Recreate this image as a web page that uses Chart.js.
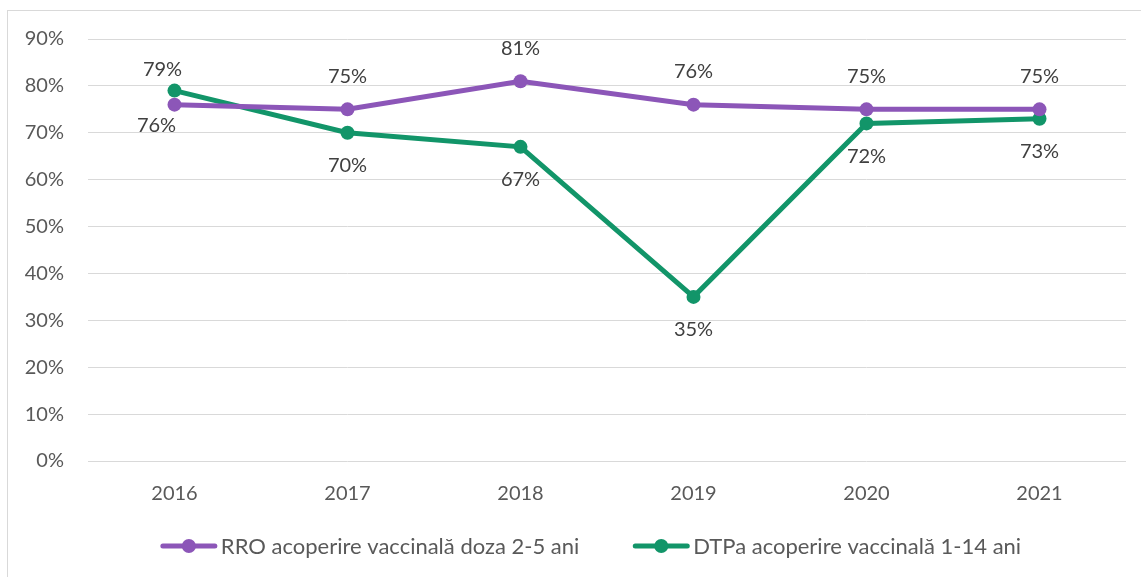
<!DOCTYPE html>
<html>
<head>
<meta charset="utf-8">
<script src="https://cdn.jsdelivr.net/npm/chart.js@4"></script>
<style>
  html, body { margin: 0; padding: 0; background: #fff; overflow: hidden; }
  #wrap { width: 1141px; height: 577px; position: relative; }
</style>
</head>
<body>
<div id="wrap"><canvas id="vaxChart" width="1141" height="577"></canvas></div>
<script>
// Data
const years = ['2016', '2017', '2018', '2019', '2020', '2021'];
const rroValues = [76, 75, 81, 76, 75, 75];
const dtpaValues = [79, 70, 67, 35, 72, 73];
const yTicks = [0, 10, 20, 30, 40, 50, 60, 70, 80, 90];
const seriesNames = ['RRO acoperire vaccinală doza 2-5 ani', 'DTPa acoperire vaccinală 1-14 ani'];

const FONT = 'Lato, "Noto Sans", sans-serif';
const PURPLE = '#8c56b8';
const GREEN = '#129569';

// where each value label sits relative to its point
const labelSide = [
  ['below', 'above', 'above', 'above', 'above', 'above'],
  ['above', 'below', 'below', 'below', 'below', 'below']
];

const frameAndLabels = {
  id: 'frameAndLabels',
  beforeDraw(chart) {
    const c = chart.ctx;
    c.save();
    c.strokeStyle = '#d9d9d9';
    c.lineWidth = 1;
    c.strokeRect(7.5, 10.5, 1300, 700);
    c.restore();
  },
  afterDatasetsDraw(chart) {
    const c = chart.ctx;
    c.save();
    c.font = '20px ' + FONT;
    c.fillStyle = '#404040';
    c.textAlign = 'center';
    c.textBaseline = 'middle';
    chart.data.datasets.forEach((ds, di) => {
      chart.getDatasetMeta(di).data.forEach((pt, i) => {
        const side = labelSide[di][i];
        let dx = 0, dist = 33;
        if (i === 0) { dx = di === 0 ? -18 : -12; dist = 21; }
        const dy = side === 'above' ? -dist : dist;
        c.fillText(ds.data[i] + '%', pt.x + dx, pt.y + dy);
      });
    });
    c.restore();
  },
  afterDraw(chart) {
    // legend: line with marker, then series name
    const c = chart.ctx;
    c.save();
    c.font = '22px ' + FONT;
    c.textBaseline = 'middle';
    const symW = 56, gapT = 4, gapItem = 54, y = 546;
    const widths = chart.data.datasets.map(ds => c.measureText(ds.label).width);
    const total = widths.reduce((a, w) => a + symW + gapT + w, 0) + gapItem * (widths.length - 1);
    let x = 591 - total / 2;
    chart.data.datasets.forEach((ds, i) => {
      c.strokeStyle = ds.borderColor;
      c.lineWidth = 5;
      c.lineCap = 'round';
      c.beginPath();
      c.moveTo(x + 2, y);
      c.lineTo(x + symW - 2, y);
      c.stroke();
      c.fillStyle = ds.borderColor;
      c.beginPath();
      c.arc(x + symW / 2, y, 7, 0, Math.PI * 2);
      c.fill();
      c.fillStyle = '#595959';
      c.fillText(ds.label, x + symW + gapT, y + 1);
      x += symW + gapT + widths[i] + gapItem;
    });
    c.restore();
  }
};

const ctx = document.getElementById('vaxChart').getContext('2d');
new Chart(ctx, {
  type: 'line',
  data: {
    labels: years,
    datasets: [
      {
        label: seriesNames[0],
        data: rroValues,
        borderColor: PURPLE,
        backgroundColor: PURPLE,
        borderWidth: 5,
        pointRadius: 7,
        pointHoverRadius: 7,
        pointBackgroundColor: PURPLE,
        pointBorderWidth: 0,
        tension: 0
      },
      {
        label: seriesNames[1],
        data: dtpaValues,
        borderColor: GREEN,
        backgroundColor: GREEN,
        borderWidth: 5,
        pointRadius: 7,
        pointHoverRadius: 7,
        pointBackgroundColor: GREEN,
        pointBorderWidth: 0,
        tension: 0
      }
    ]
  },
  options: {
    responsive: false,
    animation: false,
    layout: { padding: { top: 39, right: 15, bottom: 56, left: 0 } },
    plugins: {
      legend: { display: false },
      tooltip: { enabled: false }
    },
    scales: {
      x: {
        offset: true,
        grid: { display: false, drawTicks: false },
        border: { display: false },
        ticks: { color: '#595959', font: { family: FONT, size: 20 }, padding: 21 },
        afterFit: s => { s.height = 60; }
      },
      y: {
        min: 0,
        max: 90,
        afterBuildTicks: s => { s.ticks = yTicks.map(v => ({ value: v })); },
        grid: { color: '#d9d9d9', lineWidth: 1, drawTicks: false },
        border: { display: false },
        ticks: {
          color: '#595959',
          font: { family: FONT, size: 20 },
          padding: 24,
          callback: v => v + '%'
        },
        afterFit: s => { s.width = 88; }
      }
    }
  },
  plugins: [frameAndLabels]
});
</script>
</body>
</html>
